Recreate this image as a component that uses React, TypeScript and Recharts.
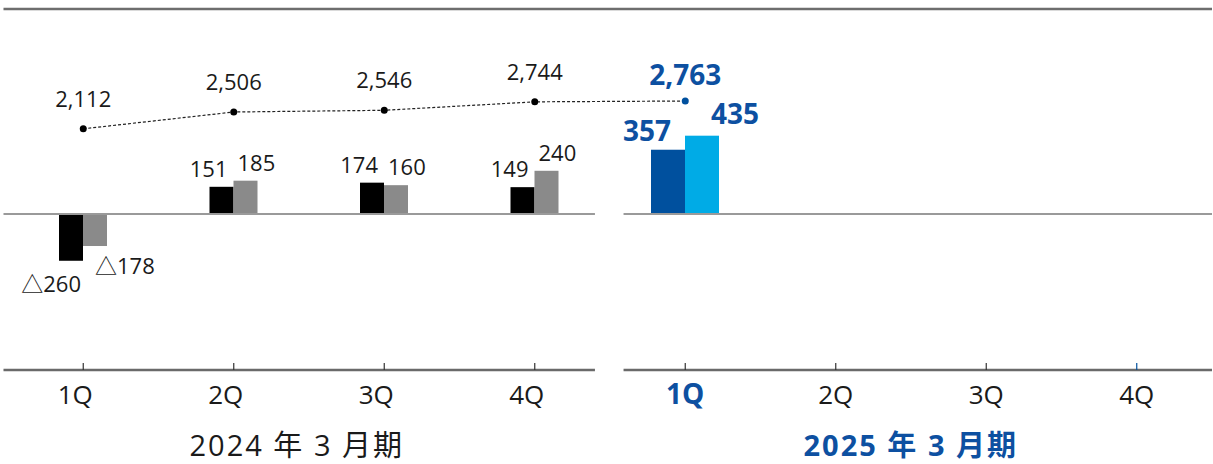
import React from 'react';
import {
  ComposedChart,
  Bar,
  Line,
  XAxis,
  YAxis,
  ReferenceLine,
} from 'recharts';

// 四半期ラベル（2024年3月期 4Q + 2025年3月期 4Q）
const quarters = ['1Q', '2Q', '3Q', '4Q', '1Q', '2Q', '3Q', '4Q'];
const periods = ['2024 年 3 月期', '2025 年 3 月期'];
const seriesA = [-260, 151, 174, 149, 357, null, null, null];
const seriesB = [-178, 185, 160, 240, 435, null, null, null];
const seriesLine = [2112, 2506, 2546, 2744, 2763, null, null, null];

const data = quarters.map((q, i) => ({
  idx: i,
  q,
  a: seriesA[i],
  b: seriesB[i],
  s: seriesLine[i],
}));

const FONT = "'Open Sans', 'Noto Sans CJK JP', sans-serif";
const BLUE_TEXT = '#0d50a1';
const DARK_BLUE = '#00509e';
const LIGHT_BLUE = '#00abe6';
const CUR_WIDTH = 34;

const fmt = (v: number) =>
  v < 0 ? `△${Math.abs(v).toLocaleString('en-US')}` : v.toLocaleString('en-US');

function makeBarShape(key: 'a' | 'b') {
  return (props: any) => {
    const { x, y, width, height, payload } = props;
    const v = payload[key];
    if (v == null) return <g />;
    const cur = payload.idx >= 4;
    const top = Math.min(y, y + height);
    const bottom = Math.max(y, y + height);
    const h = bottom - top;
    let rx = x;
    let rw = width;
    if (cur) {
      rw = CUR_WIDTH;
      rx = key === 'a' ? x + width - CUR_WIDTH : x;
    }
    const fill = key === 'a' ? (cur ? DARK_BLUE : '#000') : cur ? LIGHT_BLUE : '#8a8a8a';

    let tx: number;
    let ty: number;
    const anchor = key === 'a' ? 'end' : 'start';
    if (cur) {
      tx = key === 'a' ? rx + rw - 14 : rx + 26;
      ty = key === 'a' ? top - 9 : top - 12;
    } else if (v < 0) {
      tx = key === 'a' ? rx + rw - 2 : rx + 12;
      ty = key === 'a' ? bottom + 31 : bottom + 28;
    } else {
      tx = key === 'a' ? rx + rw - 6 : rx + 4;
      ty = top - 10;
    }
    return (
      <g>
        <rect x={rx} y={top} width={rw} height={h} fill={fill} />
        <text
          x={tx}
          y={ty}
          textAnchor={anchor}
          fontFamily={FONT}
          fontSize={cur ? 28 : 22}
          fontWeight={cur ? 700 : 400}
          fill={cur ? BLUE_TEXT : '#1a1a1a'}
        >
          {fmt(v)}
        </text>
      </g>
    );
  };
}

function LineDot(props: any) {
  const { cx, cy, payload } = props;
  if (payload.s == null || cx == null) return <g />;
  const cur = payload.idx >= 4;
  return (
    <g>
      <circle cx={cx} cy={cy} r={3.5} fill={cur ? DARK_BLUE : '#000'} />
      <text
        x={cx}
        y={cur ? cy - 16 : cy - 22}
        textAnchor="middle"
        fontFamily={FONT}
        fontSize={cur ? 28 : 22}
        fontWeight={cur ? 700 : 400}
        fill={cur ? BLUE_TEXT : '#1a1a1a'}
      >
        {fmt(payload.s)}
      </text>
    </g>
  );
}

function QuarterTick(props: any) {
  const { x, y, payload } = props;
  const i = payload.value as number;
  const cur = i >= 4;
  const dx = cur ? 0 : -8;
  const periodIdx = i === 1 ? 0 : i === 5 ? 1 : -1;
  return (
    <g>
      <line x1={x} x2={x} y1={y - 7} y2={y} stroke={i === 7 ? DARK_BLUE : '#333'} strokeWidth={1.2} />
      <text
        x={x + dx}
        y={y + 34}
        textAnchor="middle"
        fontFamily={FONT}
        fontSize={i === 4 ? 28 : 26}
        fontWeight={i === 4 ? 700 : 400}
        fill={i === 4 ? BLUE_TEXT : '#1a1a1a'}
      >
        {quarters[i]}
      </text>
      {periodIdx >= 0 && (
        <text
          x={x + 75 + (cur ? 0 : -12)}
          y={y + 86}
          textAnchor="middle"
          fontFamily={FONT}
          fontSize={29}
          letterSpacing={2}
          fontWeight={cur ? 700 : 400}
          fill={cur ? BLUE_TEXT : '#1a1a1a'}
        >
          {periods[periodIdx]}
        </text>
      )}
    </g>
  );
}

export default function App() {
  return (
    <div style={{ position: 'absolute', left: 0, top: 0, background: '#fff' }}>
      <ComposedChart
        width={1213}
        height={464}
        data={data}
        margin={{ top: 9, right: 1, left: 8, bottom: 0 }}
        barGap={0}
      >
        <XAxis
          type="number"
          dataKey="idx"
          domain={[-0.5, 7.5]}
          ticks={[0, 1, 2, 3, 4, 5, 6, 7]}
          interval={0}
          axisLine={false}
          tickLine={false}
          tickSize={0}
          tickMargin={0}
          height={94}
          tick={<QuarterTick />}
        />
        <YAxis yAxisId="bar" hide domain={[-867, 1139]} allowDataOverflow />
        <YAxis yAxisId="line" hide domain={[-3536, 4918]} allowDataOverflow />

        <ReferenceLine
          yAxisId="bar"
          ifOverflow="visible"
          segment={[{ x: -0.53, y: 1139 }, { x: 7.5, y: 1139 }]}
          stroke="#6e6e6e"
          strokeWidth={2.5}
        />
        <ReferenceLine
          yAxisId="bar"
          ifOverflow="visible"
          segment={[{ x: -0.53, y: 0 }, { x: 3.4, y: 0 }]}
          stroke="#9a9a9a"
          strokeWidth={2}
        />
        <ReferenceLine
          yAxisId="bar"
          ifOverflow="visible"
          segment={[{ x: 3.59, y: 0 }, { x: 7.5, y: 0 }]}
          stroke="#9a9a9a"
          strokeWidth={2}
        />
        <ReferenceLine
          yAxisId="bar"
          ifOverflow="visible"
          segment={[{ x: -0.53, y: -867 }, { x: 3.4, y: -867 }]}
          stroke="#6a6a6a"
          strokeWidth={2.5}
        />
        <ReferenceLine
          yAxisId="bar"
          ifOverflow="visible"
          segment={[{ x: 3.59, y: -867 }, { x: 7.5, y: -867 }]}
          stroke="#6a6a6a"
          strokeWidth={2.5}
        />

        <Bar yAxisId="bar" dataKey="a" barSize={24} shape={makeBarShape('a')} isAnimationActive={false} />
        <Bar yAxisId="bar" dataKey="b" barSize={24} shape={makeBarShape('b')} isAnimationActive={false} />
        <Line
          yAxisId="line"
          dataKey="s"
          stroke="#222"
          strokeWidth={1.2}
          strokeDasharray="3 2"
          dot={<LineDot />}
          activeDot={false}
          isAnimationActive={false}
        />
      </ComposedChart>
    </div>
  );
}
